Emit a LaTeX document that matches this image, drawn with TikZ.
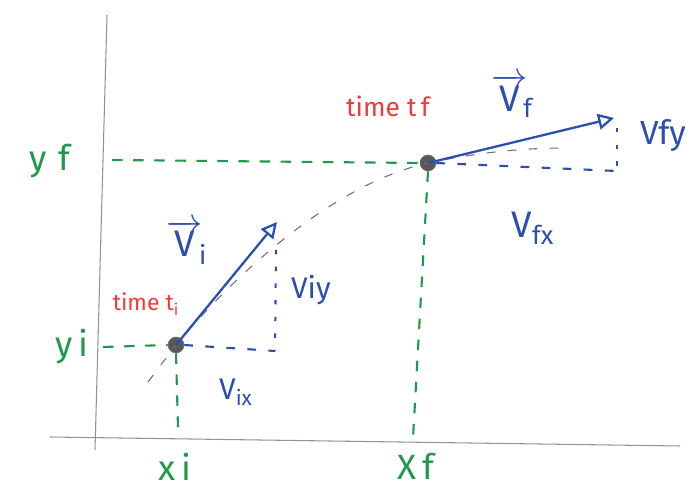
\documentclass[tikz,border=0pt]{standalone}
\usepackage{fontspec}
\setmainfont{Fira Sans}
\setsansfont{Fira Sans}
\usepackage{tikz}
\usetikzlibrary{positioning,arrows.meta,calc}
\definecolor{pengreen} {HTML}{1F9A4A}
\definecolor{penblue}  {HTML}{2B4FAE}
\definecolor{penred}   {HTML}{F2393C}
\definecolor{pengray}  {HTML}{6E6E6E}
\tikzset{
  >=stealth,
  % --- lines
  axis/.style  = {draw=pengray!75, line width=0.6pt},
  guide/.style = {draw=pengreen, line width=1.2pt, dash pattern=on 6pt off 6pt},
  comp/.style  = {draw=penblue, line width=1.2pt, dash pattern=on 5pt off 7pt},
  compv/.style = {draw=penblue, line width=1.2pt, dash pattern=on 2.5pt off 7pt},
  vel/.style   = {draw=penblue, line width=1.3pt,
                  -{Triangle[open, length=9pt, width=9pt, line width=1.3pt]}},
  traj/.style  = {draw=pengray, line width=0.6pt, dash pattern=on 5pt off 7pt},
  % --- nodes
  pt/.style    = {circle, fill=pengray!80!black, draw=pengray, inner sep=0pt,
                  minimum size=9pt},
  glbl/.style  = {text=pengreen, inner sep=0pt, font=\fontsize{20}{24}\selectfont},
  blbl/.style  = {text=penblue, inner sep=0pt, font=\fontsize{17}{20}\selectfont},
  bbig/.style  = {text=penblue, inner sep=0pt, font=\fontsize{21}{24}\selectfont},
  rlbl/.style  = {text=penred, inner sep=0pt, font=\fontsize{13}{15}\selectfont},
}

\begin{document}
\begin{tikzpicture}[x=0.02cm, y=-0.02cm]
  \useasboundingbox (0,0) rectangle (697,496);
  % axes
  \coordinate (ytop) at (107,15);
  \coordinate (ybot) at (95,450);
  \coordinate (xleft) at (50,437);
  \coordinate (xright) at (680,446);
  \draw[axis] (ytop) -- (ybot);
  \draw[axis] (xleft) -- (xright);

  % points of the trajectory
  \coordinate (tstart) at (148,382);
  \coordinate (tend) at (565,148);
  \node[pt] (pi) at (176,345) {};
  \node[pt] (pf) at (428,163) {};
  \draw[traj] (tstart) -- (pi.center)
        .. controls (232,278) and (330,185) .. (pf.center)
        .. controls (480,152) and (525,148) .. (tend);

  % green guides
  \coordinate (yfl) at (112,160);
  \coordinate (yil) at (103,347);
  \coordinate (xib) at (178,428);
  \coordinate (xfb) at (413,438);
  \draw[guide] (yfl) -- (pf.west);
  \draw[guide] (yil) -- (pi.west);
  \draw[guide] (pi.south) -- (xib);
  \draw[guide] (pf.south) -- (xfb);

  % initial velocity
  \coordinate (vitip) at (277,222);
  \coordinate (ci) at (275,351);
  \draw[comp] (pi.east) -- (ci);
  \draw[compv] ($(vitip)+(-1,28)$) -- (ci);
  \draw[vel] (pi.center) -- (vitip);

  % final velocity
  \coordinate (vftip) at (614,118);
  \coordinate (cf) at (617,171);
  \draw[comp] (pf.east) -- (cf);
  \draw[compv] ($(vftip)+(3,10)$) -- (cf);
  \draw[vel] (pf.center) -- (vftip);

  % labels
  \node[glbl] (yf) at (50,161) {y\,\,f};
  \node[glbl] (yi) at (72,347) {y\,i};
  \node[glbl] (xi) at (175,467) {x\,i};
  \node[glbl] (xf) at (416,466) {X\,f};
  \node[rlbl] (ti) at (146,304) {time t\textsubscript{i}};
  \node[rlbl, font=\fontsize{15}{18}\selectfont] (tf) at (388,106) {time t\,f};
  \node[bbig] (vi) at (187,242) {$\overrightarrow{\mathsf{V}}_{\!\mathsf{i}}$};
  \node[bbig] (vf) at (512,96) {$\overrightarrow{\mathsf{V}}_{\!\mathsf{f}}$};
  \node[blbl] (viy) at (311,290) {Viy};
  \node[blbl] (vix) at (236,392) {V\textsubscript{ix}};
  \node[blbl, font=\fontsize{19}{22}\selectfont] (vfy) at (663,136) {Vfy};
  \node[bbig] (vfx) at (533,228) {V\textsubscript{fx}};
\end{tikzpicture}
\end{document}
